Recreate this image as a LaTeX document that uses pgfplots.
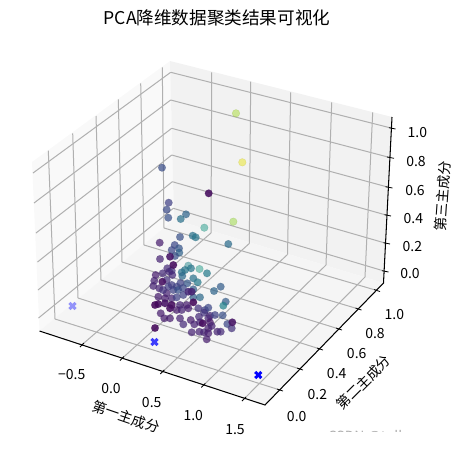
\documentclass[border=0pt]{standalone}
\usepackage{fontspec}
\setmainfont{Noto Sans CJK SC}
\usepackage{pgfplots}
\usepackage{pgfplotstable}
\pgfplotsset{compat=1.18}

% matplotlib's 3D view has perspective, which pgfplots' 3D axes cannot do,
% so the whole chart is kept in picture coordinates (px, y downwards).
\definecolor{gridc}{RGB}{176,176,176}

\pgfdeclareplotmark{fatx}{%
  \pgfpathmoveto{\pgfqpoint{-4.1pt}{-2.0pt}}%
  \pgfpathlineto{\pgfqpoint{-2.0pt}{0pt}}\pgfpathlineto{\pgfqpoint{-4.1pt}{2.0pt}}%
  \pgfpathlineto{\pgfqpoint{-2.0pt}{4.1pt}}\pgfpathlineto{\pgfqpoint{0pt}{2.0pt}}%
  \pgfpathlineto{\pgfqpoint{2.0pt}{4.1pt}}\pgfpathlineto{\pgfqpoint{4.1pt}{2.0pt}}%
  \pgfpathlineto{\pgfqpoint{2.0pt}{0pt}}\pgfpathlineto{\pgfqpoint{4.1pt}{-2.0pt}}%
  \pgfpathlineto{\pgfqpoint{2.0pt}{-4.1pt}}\pgfpathlineto{\pgfqpoint{0pt}{-2.0pt}}%
  \pgfpathlineto{\pgfqpoint{-2.0pt}{-4.1pt}}\pgfpathclose\pgfusepathqfill}

% far, faded points
\pgfplotstableread{
px py c
236 113.3 .87
242.3 162.3 .97
233.3 221.7 .85
204.3 227.7 .55
199.5 269 .55
188.3 265.7 .47
}\ptsfar

% most of the cloud
\pgfplotstableread{
px py c
162 167.7 .24
168.7 202.7 .19
166.7 209.7 .23
168.3 217.7 .25
186 214.3 .33
180.7 219 .38
180 237 .25
192.7 235.7 .38
195.7 237.3 .4
228.3 244 .36
159.7 242.7 .08
174.7 245 .22
179 248.3 .27
171.7 250 .22
179.3 252.7 .32
175 256 .25
160 259 .1
191 268.3 .4
185 270 .4
181.7 272.3 .38
182.3 276 .35
207 273.3 .42
167.3 268.3 .12
171.7 270.7 .15
155.7 275 .08
162.7 273.3 .12
169.3 271.7 .12
172.3 275 .12
154.3 280.7 .1
153.3 286 .1
159.3 288.3 .1
166.7 280 .15
193.3 278.3 .38
197.7 282.3 .42
187.3 283.3 .28
193.3 289.3 .3
220.7 286.7 .3
214 291 .33
171.7 285 .18
176.7 286.7 .2
168.3 286.7 .18
173.3 290 .2
166.7 293.3 .1
178.3 290 .25
180.5 283 .2
183 288 .22
163 290 .15
158.3 296.7 .08
165 298.3 .08
171.7 298.3 .1
176.7 297.3 .2
183.3 295 .2
193.3 297.3 .3
200 297.3 .35
180 305 .1
186.7 305 .08
188.3 308.3 .08
198.3 308.3 .15
205 310 .2
208.3 307.7 .22
225.7 301.7 .3
223.3 305.7 .45
176.7 310 .07
181.7 310 .1
160.7 313.3 .08
164.3 318.3 .08
170 318.3 .08
180 318.3 .1
183.3 324.3 .12
190.7 320 .08
194.3 324.3 .1
199 316.7 .12
204 312.7 .15
210 315.7 .12
215 315 .2
222.7 315.3 .25
200 322.3 .1
208.3 318.3 .1
210 322.3 .06
208.3 328.3 .08
211.7 326 .1
191.7 332.3 .1
199.3 331.7 .1
204 332.3 .1
208.3 333.3 .08
217.3 331.7 .1
220.7 331.7 .12
227.3 324 .22
231.7 328.3 .15
206.7 339.3 .08
}\ptsmid

% front, darker points
\pgfplotstableread{
px py c
208.7 193.3 .03
170 256.7 .05
173.3 265 .03
162.3 281.7 .04
188.3 291.7 .12
191.7 291.7 .1
158.3 304 .03
155 305 .02
165 303.3 .05
171.7 305 .03
170 308.3 .04
193.3 302.3 .02
202.7 323.3 .03
232.3 322.3 .05
155 328 .02
}\ptsfront

\pgfplotsset{
  gline/.style={draw=gridc,line width=1pt,no marks},
  bline/.style={draw=black,line width=1.05pt,no marks},
  cloud/.style={only marks,scatter,scatter src=explicit,mark=*,mark size=3.8pt,
    mark options={line width=0.4pt,fill opacity=#1,draw opacity=0.3}},
}
\tikzset{tickl/.style={font=\fontsize{14}{14}\selectfont,inner sep=0pt}}

\begin{document}
\begin{tikzpicture}[x=1pt,y=1pt]
\path[use as bounding box] (0,0) rectangle (463,448);
\begin{axis}[
  at={(0,0)},anchor=south west,
  scale only axis,width=463pt,height=448pt,
  xmin=0,xmax=463,ymin=0,ymax=448,
  y dir=reverse,
  hide axis,clip=false,
  unbounded coords=jump,
  colormap/viridis,
  point meta min=0,point meta max=1,
]
% panes
\addplot[fill={rgb,255:red,249;green,249;blue,249},draw=none] coordinates {(32,162) (170,61) (174,219.5) (39.5,331)} -- cycle;
\addplot[fill={rgb,255:red,242;green,242;blue,242},draw=none] coordinates {(170,61) (392,117) (383.5,283) (174,219.5)} -- cycle;
\addplot[fill={rgb,255:red,245;green,245;blue,245},draw=none] coordinates {(39.5,331) (174,219.5) (383.5,283) (265,405)} -- cycle;

% grid: left pane
\addplot[gline] coordinates {(48.3,150.7) (55,319) (nan,nan) (72.7,133.3) (78,298) (nan,nan) (96,116) (101,280) (nan,nan) (118.3,99.3) (122,262) (nan,nan) (140.7,83.3) (144,245) (nan,nan) (162.3,67.3) (164,228)};
\addplot[gline] coordinates {(33,173) (170.7,72.3) (nan,nan) (34,203) (170.7,100) (nan,nan) (36,233) (171.7,128.3) (nan,nan) (37.5,262) (171.7,155) (nan,nan) (38,290) (172.3,181.7) (nan,nan) (38.5,318) (173.3,208.3)};
% grid: right pane
\addplot[gline] coordinates {(211.7,72.3) (211,233) (nan,nan) (250.7,81.7) (249.3,243.5) (nan,nan) (290.7,92.3) (287.5,254.5) (nan,nan) (331.7,102.3) (326,265) (nan,nan) (372.7,112.3) (365,277)};
\addplot[gline] coordinates {(170.7,72.3) (391,128) (nan,nan) (170.7,100) (389,157.3) (nan,nan) (171.7,128.3) (387.5,187) (nan,nan) (171.7,155) (386,215) (nan,nan) (172.3,181.7) (385,243) (nan,nan) (173.3,208.3) (384,271)};
% grid: floor
\addplot[gline] coordinates {(55,319) (280,390) (nan,nan) (78,298) (300,369) (nan,nan) (101,280) (320,349) (nan,nan) (122,262) (339,329) (nan,nan) (144,245) (358.5,309) (nan,nan) (164,228) (377,290.5)};
\addplot[gline] coordinates {(81.7,345) (211,233) (nan,nan) (122,358.5) (249.3,243.5) (nan,nan) (162.3,372) (287.5,254.5) (nan,nan) (203.3,385.5) (326,265) (nan,nan) (244,399) (365,277)};

% axis lines and ticks
\addplot[bline] coordinates {(39.5,331) (265,405) (383.5,283) (392,117)};
\addplot[draw=black,line width=0.8pt,no marks] coordinates {(80,347) (84,343) (nan,nan) (120,360.5) (124,356.5) (nan,nan) (160.3,374) (164.3,370) (nan,nan) (201.3,387.5) (205.3,383.5) (nan,nan) (242,401) (246,397)};
\addplot[draw=black,line width=0.8pt,no marks] coordinates {(277,389) (283,391) (nan,nan) (297,368) (303,370) (nan,nan) (317,348) (323,350) (nan,nan) (336,328) (342,330) (nan,nan) (355.5,308) (361.5,310) (nan,nan) (374,289.5) (380,291.5)};
\addplot[draw=black,line width=0.8pt,no marks] coordinates {(389,127.7) (395.5,129) (nan,nan) (387,157) (394,158.3) (nan,nan) (385.5,186.7) (392.5,188) (nan,nan) (384.5,214.7) (391,216) (nan,nan) (383.5,242.7) (390,244) (nan,nan) (382,270.7) (388.5,272)};

% points
\addplot[cloud=0.5] table[x=px,y=py,meta=c] {\ptsfar};
\addplot[cloud=0.72] table[x=px,y=py,meta=c] {\ptsmid};
\addplot[cloud=0.88] table[x=px,y=py,meta=c] {\ptsfront};

% cluster centres
\addplot[only marks,mark=fatx,color=blue,mark options={opacity=0.4}] coordinates {(72.5,306)};
\addplot[only marks,mark=fatx,color=blue,mark options={opacity=0.75}] coordinates {(154.5,342)};
\addplot[only marks,mark=fatx,color=blue] coordinates {(258.3,375)};

% texts
\node[font=\fontsize{17.6}{17.6}\selectfont,inner sep=0pt] at (axis cs:217,18) {PCA降维数据聚类结果可视化};
\node[tickl] at (axis cs:71.7,374.3) {−0.5};
\node[tickl] at (axis cs:111,388.3) {0.0};
\node[tickl] at (axis cs:151.7,402.3) {0.5};
\node[tickl] at (axis cs:193.3,415.7) {1.0};
\node[tickl] at (axis cs:235,430) {1.5};
\node[tickl] at (axis cs:296.7,416) {0.0};
\node[tickl] at (axis cs:317.3,394.3) {0.2};
\node[tickl] at (axis cs:336.7,373.3) {0.4};
\node[tickl] at (axis cs:356.7,353.3) {0.6};
\node[tickl] at (axis cs:375,333.3) {0.8};
\node[tickl] at (axis cs:394.3,314.3) {1.0};
\node[tickl] at (axis cs:410,273.3) {0.0};
\node[tickl] at (axis cs:412.3,246.7) {0.2};
\node[tickl] at (axis cs:413.3,218.3) {0.4};
\node[tickl] at (axis cs:415,190.7) {0.6};
\node[tickl] at (axis cs:416,161.7) {0.8};
\node[tickl] at (axis cs:417.3,132.7) {1.0};
\node[tickl,rotate=-19] at (axis cs:126,416.7) {第一主成分};
\node[tickl,rotate=45] at (axis cs:363.3,382.3) {第二主成分};
\node[tickl,rotate=86] at (axis cs:442.7,196) {第三主成分};
\end{axis}
\begin{scope}
\clip (300,17) rectangle (463,40);
\node[font=\fontsize{14}{14}\selectfont,inner sep=0pt,text=black!32] at (369,10.5) {CSDN @tolle};
\end{scope}
\end{tikzpicture}
\end{document}
